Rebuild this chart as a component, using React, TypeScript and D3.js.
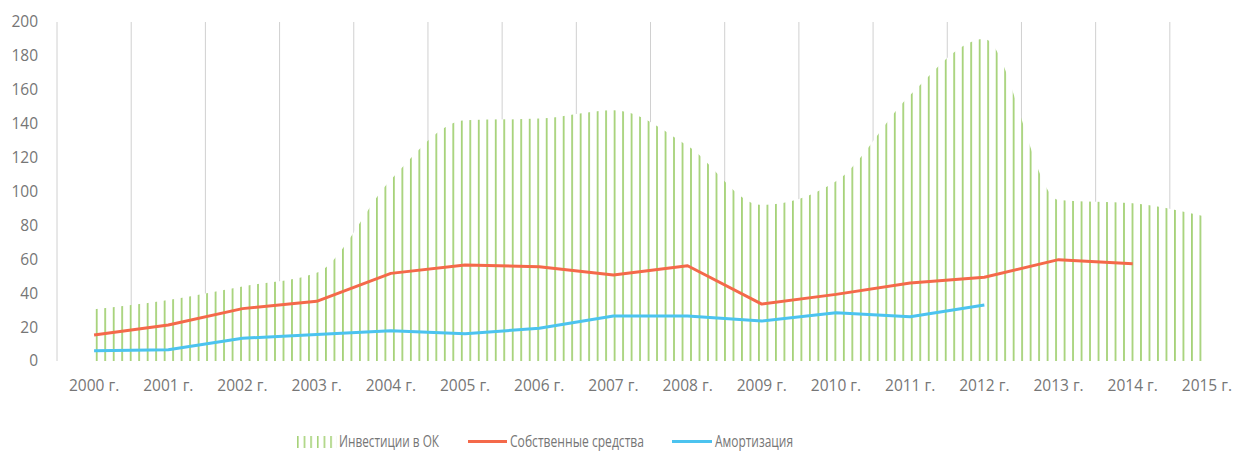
import React from "react";
import * as d3 from "d3";

// chart values
const years = [
  "2000 г.", "2001 г.", "2002 г.", "2003 г.", "2004 г.", "2005 г.", "2006 г.", "2007 г.",
  "2008 г.", "2009 г.", "2010 г.", "2011 г.", "2012 г.", "2013 г.", "2014 г.", "2015 г.",
];
const investments = [30.5, 36, 44, 52, 107, 142, 143, 148, 127, 92, 106, 157, 190, 95, 93, 85];
const ownFunds = [15.3, 21.2, 30.9, 35.2, 51.7, 56.6, 55.6, 50.7, 56.2, 33.6, 39.3, 46, 49.4, 59.8, 57.4];
const depreciation = [6.1, 6.7, 13.4, 15.7, 17.9, 16.1, 19.3, 26.5, 26.5, 23.6, 28.5, 26.1, 33];
const yTicks = [0, 20, 40, 60, 80, 100, 120, 140, 160, 180, 200];

const W = 1233;
const H = 451;
const GREEN = "#a6d279";
const ORANGE = "#f4694a";
const BLUE = "#4cc3ef";
const TEXT = "#767676";
const FONT = "'Open Sans', 'Noto Sans', sans-serif";
const FS = 15.5;

const App = () => {
  const x = d3.scaleBand<string>().domain(years).range([57, 1244]).padding(0);
  const y = d3.scaleLinear().domain([0, 200]).range([361, 22]);
  const cx = (i: number) => (x(years[i]) ?? 0) + x.bandwidth() / 2;

  const area = d3
    .area<number>()
    .x((_, i) => cx(i))
    .y0(y(0))
    .y1((d) => y(d))
    .curve(d3.curveMonotoneX);

  const line = d3
    .line<number>()
    .x((_, i) => cx(i))
    .y((d) => y(d));

  // grid lines sit on the category boundaries
  const bounds = years.map((yr) => x(yr) ?? 0);

  return (
    <svg
      width={W}
      height={H}
      style={{ position: "absolute", left: 0, top: 0, display: "block" }}
      fontFamily={FONT}
    >
      <defs>
        <pattern id="stripes" patternUnits="userSpaceOnUse" x={95.8} y={0} width={8.49} height={10}>
          <rect width={8.49} height={10} fill="#fff" />
          <rect x={0} width={1.8} height={10} fill={GREEN} />
        </pattern>
        <pattern id="legStripes" patternUnits="userSpaceOnUse" x={297} y={0} width={6.65} height={10}>
          <rect width={6.65} height={10} fill="#fff" />
          <rect x={0} width={1.6} height={10} fill={GREEN} />
        </pattern>
      </defs>
      <rect width={W} height={H} fill="#fff" />

      {bounds.map((bx, i) => (
        <line key={i} x1={bx} x2={bx} y1={y(200)} y2={y(0)} stroke="#d0d0d0" strokeWidth={1} />
      ))}

      <path d={area(investments) ?? ""} fill="url(#stripes)" />
      <path d={line(ownFunds) ?? ""} fill="none" stroke={ORANGE} strokeWidth={3} strokeLinejoin="round" />
      <path d={line(depreciation) ?? ""} fill="none" stroke={BLUE} strokeWidth={3} strokeLinejoin="round" />

      {yTicks.map((t) => (
        <text key={t} x={38} y={y(t)} dy="0.35em" textAnchor="end" fontSize={FS} fill={TEXT}>
          {t}
        </text>
      ))}
      {years.map((yr, i) => (
        <text key={yr} x={cx(i)} y={391} textAnchor="middle" fontSize={FS} fill={TEXT}>
          {yr}
        </text>
      ))}

      {/* legend - reference font is narrower, so squeeze to its widths */}
      <rect x={297} y={436} width={40} height={12} fill="url(#legStripes)" />
      <text x={339} y={447} fontSize={FS} fill={TEXT} textLength={100} lengthAdjust="spacingAndGlyphs">
        Инвестиции в ОК
      </text>
      <line x1={468} x2={507} y1={441.5} y2={441.5} stroke={ORANGE} strokeWidth={3} />
      <text x={510} y={447} fontSize={FS} fill={TEXT} textLength={134} lengthAdjust="spacingAndGlyphs">
        Собственные средства
      </text>
      <line x1={672} x2={712} y1={441.5} y2={441.5} stroke={BLUE} strokeWidth={3} />
      <text x={715} y={447} fontSize={FS} fill={TEXT} textLength={78} lengthAdjust="spacingAndGlyphs">
        Амортизация
      </text>
    </svg>
  );
};

export default App;
